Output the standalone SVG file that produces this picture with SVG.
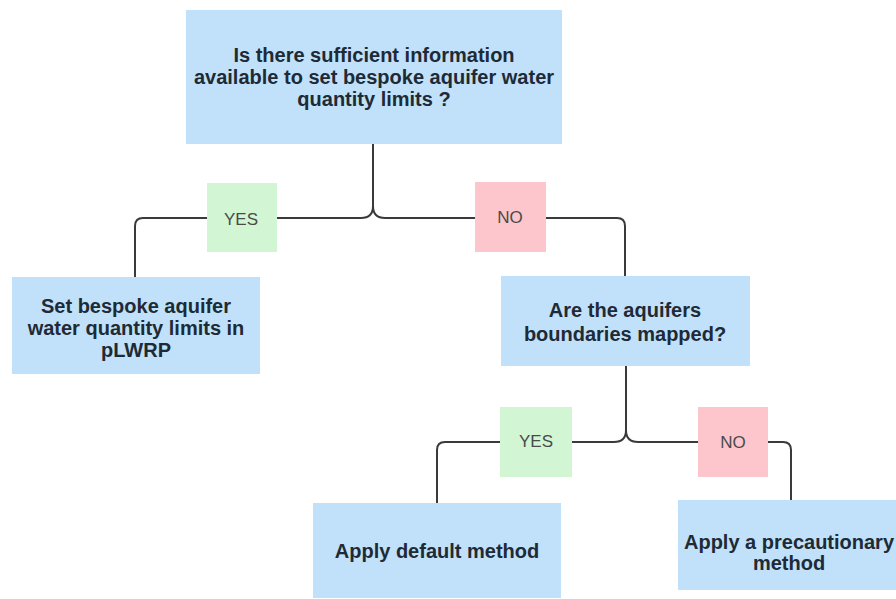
<svg xmlns="http://www.w3.org/2000/svg" width="896" height="599" viewBox="0 0 896 599">
<style>
.box{fill:#c0e1f9}
.yes{fill:#d2f5d3}
.no{fill:#fcc6cc}
.t{font-family:"Liberation Sans",Arial,sans-serif;font-weight:bold;font-size:20px;fill:#1e2a36;text-anchor:middle}
.lbl{font-family:"Liberation Sans",Arial,sans-serif;font-size:17px;fill:#4a4a4a;text-anchor:middle}
.c{fill:none;stroke:#3a3a3a;stroke-width:2;stroke-linecap:round;stroke-linejoin:round}
</style>
<rect width="896" height="599" fill="#ffffff"/>
<g id="connectors">
<path class="c" d="M373 144 V206 Q373 218 361 218 H277"/>
<path class="c" d="M373 206 Q373 218 385 218 H475"/>
<path class="c" d="M207 218 H143 Q135 218 135 226 V277"/>
<path class="c" d="M546 218 H617 Q625 218 625 226 V276"/>
<path class="c" d="M626 366 V430 Q626 442 614 442 H572"/>
<path class="c" d="M626 430 Q626 442 638 442 H698"/>
<path class="c" d="M500 442 H445 Q437 442 437 450 V503"/>
<path class="c" d="M768 442 H783 Q791 442 791 450 V500"/>
</g>
<g id="q1">
<rect class="box" x="186" y="10" width="376" height="134"/>
<text class="t" x="374" y="62">Is there sufficient information</text>
<text class="t" x="374" y="84">available to set bespoke aquifer water</text>
<text class="t" x="374" y="106">quantity limits ?</text>
</g>
<g id="yes1">
<rect class="yes" x="207" y="183" width="70" height="69"/>
<text class="lbl" x="241" y="225">YES</text>
</g>
<g id="no1">
<rect class="no" x="475" y="182" width="71" height="70"/>
<text class="lbl" x="510" y="223">NO</text>
</g>
<g id="setlimits">
<rect class="box" x="12" y="277" width="248" height="97"/>
<text class="t" x="136" y="313">Set bespoke aquifer</text>
<text class="t" x="136" y="335">water quantity limits in</text>
<text class="t" x="136" y="357">pLWRP</text>
</g>
<g id="q2">
<rect class="box" x="501" y="276" width="249" height="90"/>
<text class="t" x="625" y="317">Are the aquifers</text>
<text class="t" x="625" y="341">boundaries mapped?</text>
</g>
<g id="yes2">
<rect class="yes" x="500" y="407" width="72" height="70"/>
<text class="lbl" x="536" y="447">YES</text>
</g>
<g id="no2">
<rect class="no" x="698" y="407" width="70" height="70"/>
<text class="lbl" x="733" y="448">NO</text>
</g>
<g id="default">
<rect class="box" x="313" y="503" width="248" height="95"/>
<text class="t" x="437" y="558">Apply default method</text>
</g>
<g id="precaution">
<rect class="box" x="678" y="500" width="222" height="90"/>
<text class="t" x="789" y="549">Apply a precautionary</text>
<text class="t" x="789" y="570">method</text>
</g>
</svg>
